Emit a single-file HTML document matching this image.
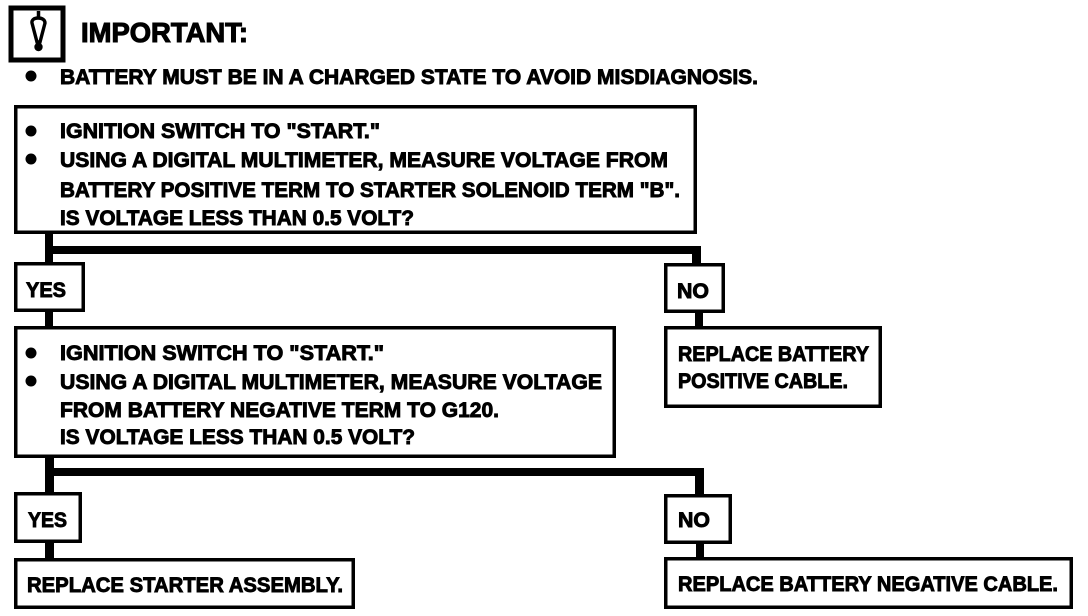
<!DOCTYPE html>
<html>
<head>
<meta charset="utf-8">
<style>
html,body{margin:0;padding:0;background:#fff;}
svg{display:block;}
text{font-family:"Liberation Sans",sans-serif;font-weight:bold;font-size:21px;fill:#000;stroke:#000;stroke-width:.9px;}
.b{fill:#fff;stroke:#000;stroke-width:3.5;}
</style>
</head>
<body>
<svg width="1088" height="616" viewBox="0 0 1088 616" xmlns="http://www.w3.org/2000/svg">
<rect x="0" y="0" width="1088" height="616" fill="#fff"/>

<!-- icon -->
<rect x="11" y="8" width="52" height="52" fill="#fff" stroke="#000" stroke-width="5"/>
<path d="M38.5 11V18" fill="none" stroke="#000" stroke-width="3.5"/>
<path d="M38 18C34 18 31.5 20 32 23L37 42H40L45 23C45 20 42.500 18 38 18Z" fill="#fff" stroke="#000" stroke-width="3.400"/>
<circle cx="38.500" cy="47" r="4.200" fill="#000"/>
<text x="81" y="42" textLength="167" lengthAdjust="spacingAndGlyphs" style="font-size:28px;stroke-width:1.100px">IMPORTANT:</text>

<circle cx="31" cy="76" r="5.500" fill="#000"/>
<text x="60" y="84" textLength="698" lengthAdjust="spacingAndGlyphs">BATTERY MUST BE IN A CHARGED STATE TO AVOID MISDIAGNOSIS.</text>

<!-- connectors -->
<g fill="#000">
<rect x="45" y="234" width="8" height="29"/>
<rect x="45" y="246" width="656" height="8"/>
<rect x="692" y="246" width="9" height="18"/>
<rect x="45" y="311" width="8" height="16"/>
<rect x="695" y="312" width="8" height="15"/>
<rect x="45" y="457" width="9" height="36"/>
<rect x="45" y="468" width="659" height="8"/>
<rect x="695" y="468" width="9" height="27"/>
<rect x="45" y="542" width="9" height="17"/>
<rect x="696" y="543" width="8" height="15"/>
</g>

<!-- box 1 -->
<rect class="b" x="15.750" y="106.750" width="679.500" height="125.500"/>
<circle cx="31" cy="131" r="5.500" fill="#000"/>
<circle cx="31" cy="159" r="5.500" fill="#000"/>
<text x="60" y="138" textLength="320" lengthAdjust="spacingAndGlyphs">IGNITION SWITCH TO "START."</text>
<text x="60" y="167" textLength="608" lengthAdjust="spacingAndGlyphs">USING A DIGITAL MULTIMETER, MEASURE VOLTAGE FROM</text>
<text x="60" y="197" textLength="620" lengthAdjust="spacingAndGlyphs">BATTERY POSITIVE TERM TO STARTER SOLENOID TERM "B".</text>
<text x="60" y="225" textLength="354" lengthAdjust="spacingAndGlyphs">IS VOLTAGE LESS THAN 0.5 VOLT?</text>

<!-- yes/no 1 -->
<rect class="b" x="15.750" y="263.750" width="67.500" height="46.500"/>
<text x="26" y="297" textLength="40" lengthAdjust="spacingAndGlyphs">YES</text>
<rect class="b" x="665.750" y="264.750" width="57.500" height="46.500"/>
<text x="677" y="298" textLength="32" lengthAdjust="spacingAndGlyphs">NO</text>

<!-- box 2 -->
<rect class="b" x="15.750" y="327.750" width="598.500" height="128.500"/>
<circle cx="31" cy="353" r="5.500" fill="#000"/>
<circle cx="31" cy="381" r="5.500" fill="#000"/>
<text x="60" y="360" textLength="324" lengthAdjust="spacingAndGlyphs">IGNITION SWITCH TO "START."</text>
<text x="60" y="389" textLength="542" lengthAdjust="spacingAndGlyphs">USING A DIGITAL MULTIMETER, MEASURE VOLTAGE</text>
<text x="60" y="417" textLength="439" lengthAdjust="spacingAndGlyphs">FROM BATTERY NEGATIVE TERM TO G120.</text>
<text x="60" y="444" textLength="355" lengthAdjust="spacingAndGlyphs">IS VOLTAGE LESS THAN 0.5 VOLT?</text>

<!-- replace positive -->
<rect class="b" x="665.750" y="327.750" width="214.500" height="78.500"/>
<text x="678" y="361" textLength="191" lengthAdjust="spacingAndGlyphs">REPLACE BATTERY</text>
<text x="678" y="388" textLength="170" lengthAdjust="spacingAndGlyphs">POSITIVE CABLE.</text>

<!-- yes/no 2 -->
<rect class="b" x="15.750" y="493.750" width="64.500" height="47.500"/>
<text x="28" y="527" textLength="39" lengthAdjust="spacingAndGlyphs">YES</text>
<rect class="b" x="665.750" y="495.750" width="64.500" height="46.500"/>
<text x="678" y="527" textLength="32" lengthAdjust="spacingAndGlyphs">NO</text>

<!-- end boxes -->
<rect class="b" x="15.750" y="559.750" width="337.500" height="47.500"/>
<text x="27" y="592" textLength="316" lengthAdjust="spacingAndGlyphs">REPLACE STARTER ASSEMBLY.</text>
<rect class="b" x="665.750" y="558.750" width="405.500" height="48.500"/>
<text x="678" y="591" textLength="380" lengthAdjust="spacingAndGlyphs">REPLACE BATTERY NEGATIVE CABLE.</text>
</svg>
</body>
</html>
